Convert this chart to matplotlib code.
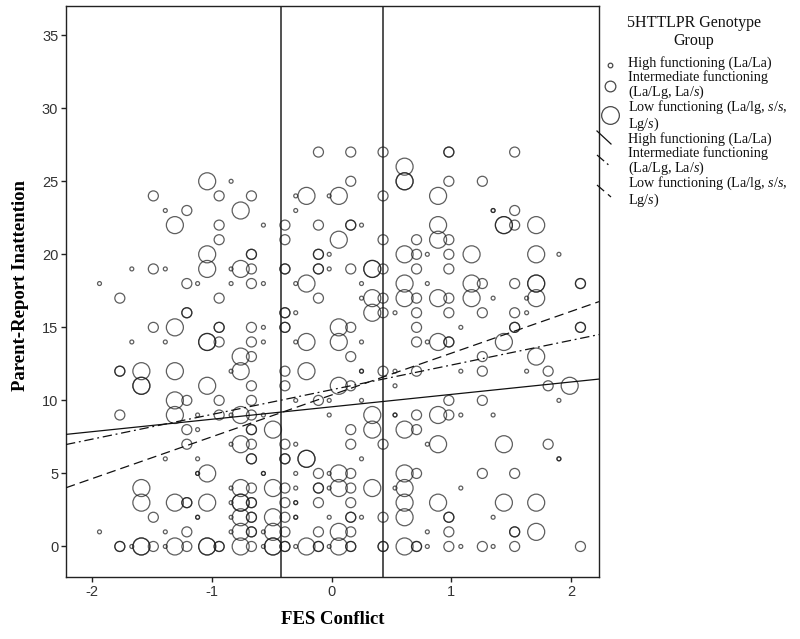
import numpy as np
import matplotlib
matplotlib.use('Agg')
import matplotlib.pyplot as plt
from matplotlib.lines import Line2D

plt.rcParams['axes.unicode_minus'] = False
plt.rcParams['mathtext.fontset'] = 'custom'
plt.rcParams['mathtext.rm'] = 'Liberation Serif'
plt.rcParams['mathtext.it'] = 'Liberation Serif:italic'

# FES Conflict (x) / Parent-Report Inattention (y), one list pair per genotype group
# repeated pairs = children sharing the same score (drawn on top of each other)
high_x = [-0.84,
          -0.30, -0.02,
          -1.39, -0.30, 1.35, 1.35,
          -0.57, 0.25,
          -0.02, 0.80, 1.90,
          -1.67, -1.39, -0.84, -0.02,
          -1.94, -1.12, -0.84, -0.57, -0.30, 0.25, 0.80,
          0.25, 1.35, 1.63,
          -0.30, 0.53, 1.63,
          -0.57, 1.08,
          -1.67, -1.39, -0.57, -0.30, 0.25, 0.80,
          -0.84, 0.25, 0.25, 0.53, 1.08, 1.63,
          0.53,
          -0.30, -0.02, 0.25, 1.90,
          -1.12, -0.84, -0.57, -0.02, 0.53, 0.53, 1.08, 1.35,
          -1.12,
          -0.84, -0.30, 0.80,
          -1.39, -1.12, 0.25, 1.90, 1.90,
          -1.12, -1.12, -0.57, -0.57, -0.30, -0.02,
          -0.84, -0.30, -0.02, 0.53, 1.08,
          -0.84, -0.30, -0.30,
          -1.12, -1.12, -0.84, -0.30, -0.30, -0.02, 0.25, 1.35,
          -1.94, -1.39, -0.84, -0.57, 0.80,
          -1.67, -1.39, -0.57, -0.30, -0.02, 0.80, 1.08, 1.35]
high_y = [25,
          24, 24,
          23, 23, 23, 23,
          22, 22,
          20, 20, 20,
          19, 19, 19, 19,
          18, 18, 18, 18, 18, 18, 18,
          17, 17, 17,
          16, 16, 16,
          15, 15,
          14, 14, 14, 14, 14, 14,
          12, 12, 12, 12, 12, 12,
          11,
          10, 10, 10, 10,
          9, 9, 9, 9, 9, 9, 9, 9,
          8,
          7, 7, 7,
          6, 6, 6, 6, 6,
          5, 5, 5, 5, 5, 5,
          4, 4, 4, 4, 4,
          3, 3, 3,
          2, 2, 2, 2, 2, 2, 2, 2,
          1, 1, 1, 1, 1,
          0, 0, 0, 0, 0, 0, 0, 0]

mid_x = [-0.11, 0.16, 0.43, 0.98, 0.98, 1.53,
         0.16, 0.98, 1.26,
         -1.49, -0.94, -0.67, 0.43,
         -1.21, 1.53,
         -0.94, -0.39, -0.11, 0.16, 0.16, 1.53,
         -0.94, -0.39, 0.43, 0.71, 0.98,
         -0.67, -0.67, -0.11, -0.11, 0.71, 0.98,
         -1.49, -0.67, -0.39, -0.39, -0.11, -0.11, 0.16, 0.43, 0.71, 0.98,
         -1.21, -0.67, 1.26, 1.53, 2.08, 2.08,
         -1.77, -0.94, -0.11, 0.43, 0.71, 0.98,
         -1.21, -1.21, -0.39, -0.39, 0.43, 0.71, 0.98, 1.26, 1.53,
         -1.49, -0.94, -0.94, -0.67, -0.39, -0.39, 0.16, 0.71, 1.53, 1.53, 2.08, 2.08,
         -0.94, -0.67, 0.71, 0.98, 0.98,
         -0.67, 0.16, 1.26,
         -1.77, -1.77, -0.39, 0.43, 0.71, 1.26, 1.81,
         -0.67, -0.39, 0.16, 1.81,
         -1.21, -0.94, -0.67, -0.11, 0.98, 1.26,
         -1.77, -0.94, -0.67, 0.71, 0.98,
         -1.21, -0.67, -0.67, 0.16, 0.71,
         -1.21, -0.67, -0.39, 0.16, 0.43, 1.81,
         -0.67, -0.67, -0.39, -0.39,
         -0.11, 0.16, 0.71, 1.26, 1.53,
         -0.67, -0.39, -0.11, -0.11, 0.16,
         -1.21, -1.21, -0.67, -0.67, -0.39, -0.11, 0.16,
         -1.49, -0.67, -0.67, -0.39, 0.16, 0.16, 0.43, 0.98, 0.98,
         -1.21, -0.67, -0.67, -0.39, -0.11, 0.16, 0.98, 1.53, 1.53,
         -1.77, -1.77, -1.49, -1.21, -0.94, -0.94, -0.67, -0.39, -0.39, -0.11, -0.11,
         0.16, 0.16, 0.43, 0.43, 0.71, 0.71, 0.98, 1.26, 1.53, 2.08]
mid_y = [27, 27, 27, 27, 27, 27,
         25, 25, 25,
         24, 24, 24, 24,
         23, 23,
         22, 22, 22, 22, 22, 22,
         21, 21, 21, 21, 21,
         20, 20, 20, 20, 20, 20,
         19, 19, 19, 19, 19, 19, 19, 19, 19, 19,
         18, 18, 18, 18, 18, 18,
         17, 17, 17, 17, 17, 17,
         16, 16, 16, 16, 16, 16, 16, 16, 16,
         15, 15, 15, 15, 15, 15, 15, 15, 15, 15, 15, 15,
         14, 14, 14, 14, 14,
         13, 13, 13,
         12, 12, 12, 12, 12, 12, 12,
         11, 11, 11, 11,
         10, 10, 10, 10, 10, 10,
         9, 9, 9, 9, 9,
         8, 8, 8, 8, 8,
         7, 7, 7, 7, 7, 7,
         6, 6, 6, 6,
         5, 5, 5, 5, 5,
         4, 4, 4, 4, 4,
         3, 3, 3, 3, 3, 3, 3,
         2, 2, 2, 2, 2, 2, 2, 2, 2,
         1, 1, 1, 1, 1, 1, 1, 1, 1,
         0, 0, 0, 0, 0, 0, 0, 0, 0, 0, 0,
         0, 0, 0, 0, 0, 0, 0, 0, 0, 0]

low_x = [0.61,
         -1.04, 0.61, 0.61,
         -0.21, 0.06, 0.89,
         -0.76,
         -1.31, 0.89, 1.44, 1.44, 1.71,
         0.06, 0.89,
         -1.04, 0.61, 1.17, 1.71,
         -1.04, -0.76, 0.34, 0.34,
         -0.21, 0.61, 1.17, 1.71, 1.71,
         0.34, 0.61, 0.89, 1.17, 1.71,
         0.34,
         -1.31, 0.06,
         -1.04, -1.04, -0.21, 0.06, 0.89, 1.44,
         -0.76, 1.71,
         -1.59, -1.31, -0.76, -0.21,
         -1.59, -1.59, -1.04, 0.06, 1.99,
         -1.31,
         -1.31, -0.76, 0.34, 0.89,
         -0.49, 0.34, 0.61,
         -0.76, 0.89, 1.44,
         -0.21, -0.21,
         -1.04, 0.06, 0.61,
         -1.59, -0.76, -0.49, 0.06, 0.34, 0.61,
         -1.59, -1.31, -1.04, -0.76, -0.76, 0.61, 0.89, 1.44, 1.71,
         -0.76, -0.49, 0.61,
         -0.76, -0.49, 0.06, 1.71,
         -1.59, -1.59, -1.31, -1.04, -1.04, -0.76, -0.49, -0.49, -0.21, 0.06, 0.61]
low_y = [26,
         25, 25, 25,
         24, 24, 24,
         23,
         22, 22, 22, 22, 22,
         21, 21,
         20, 20, 20, 20,
         19, 19, 19, 19,
         18, 18, 18, 18, 18,
         17, 17, 17, 17, 17,
         16,
         15, 15,
         14, 14, 14, 14, 14, 14,
         13, 13,
         12, 12, 12, 12,
         11, 11, 11, 11, 11,
         10,
         9, 9, 9, 9,
         8, 8, 8,
         7, 7, 7,
         6, 6,
         5, 5, 5,
         4, 4, 4, 4, 4, 4,
         3, 3, 3, 3, 3, 3, 3, 3, 3,
         2, 2, 2,
         1, 1, 1, 1,
         0, 0, 0, 0, 0, 0, 0, 0, 0, 0, 0]

# fit lines per group (intercept, slope)
fit_intercept = [9.56, 10.73, 10.37]
fit_slope = [0.85, 1.69, 2.86]
cut_points = [-0.42, 0.43]

group_labels = ['High functioning (La/La)',
                'Intermediate functioning\n(La/Lg, La/$\\mathit{s}$)',
                'Low functioning (La/lg, $\\mathit{s}$/$\\mathit{s}$,\nLg/$\\mathit{s}$)']

sizes = [8, 52, 150]
line_styles = ['-', (0, (7.5, 3, 1.5, 3)), (0, (7.5, 4))]
edge = '#1a1a1a'

fig = plt.figure(figsize=(8, 6.39), dpi=100)
ax = fig.add_axes([66/800, 1-577/639, 533/800, 571/639])

for xs, ys, s in zip([high_x, mid_x, low_x], [high_y, mid_y, low_y], sizes):
    ax.scatter(xs, ys, s=s, facecolors='none', edgecolors=edge,
               linewidths=0.9, alpha=0.7, zorder=3)

for b, m, ls in zip(fit_intercept, fit_slope, line_styles):
    ax.axline((0, b), slope=m, color='#111111', lw=0.9, ls=ls, zorder=4)

for c in cut_points:
    ax.axvline(c, color='#222222', lw=1.1, zorder=2)

ax.set_xlim(-2.22, 2.235)
ax.set_ylim(-2.09, 37.0)
ax.set_xticks([-2, -1, 0, 1, 2])
ax.set_yticks(np.arange(0, 36, 5))
for sp in ax.spines.values():
    sp.set_color('#222222')
    sp.set_linewidth(1.0)
ax.tick_params(direction='out', length=3.6, width=1.0, color='#222222',
               labelsize=10.5, labelcolor='#333333')
ax.tick_params(axis='x', pad=2.5)
ax.tick_params(axis='y', pad=2)
for lab in ax.get_xticklabels() + ax.get_yticklabels():
    lab.set_fontfamily('Liberation Sans')

ax.set_xlabel('FES Conflict', fontfamily='Liberation Serif', fontweight='bold', fontsize=13.5)
ax.set_ylabel('Parent-Report Inattention', fontfamily='Liberation Serif', fontweight='bold', fontsize=13.5)
ax.xaxis.label.set_va('center')
ax.yaxis.label.set_va('center')
ax.xaxis.set_label_coords(0.5, -0.0753)
ax.yaxis.set_label_coords(-0.0863, 0.51)

# legend panel on the right, in pixel-like units
lg = fig.add_axes([595/800, 0, 205/800, 1])
lg.set_xlim(595, 800)
lg.set_ylim(639, 0)
lg.axis('off')
serif = dict(fontfamily='Liberation Serif', color='#111111')
lg.text(694, 23, '5HTTLPR Genotype', ha='center', va='center', fontsize=11.5, **serif)
lg.text(694, 41, 'Group', ha='center', va='center', fontsize=11.5, **serif)

text_y = [63, 85.5, 115.5, 139.5, 161.5, 191.5]
marker_y = [65, 86, 115]
for i in range(3):
    lg.text(628, text_y[i], group_labels[i], ha='left', va='center', fontsize=10.2,
            linespacing=0.98, **serif)
    lg.add_line(Line2D([610], [marker_y[i]], marker='o', markersize=np.sqrt(sizes[i]) + 0.5,
                       markerfacecolor='none', markeredgecolor=edge, markeredgewidth=0.9,
                       alpha=0.8, ls='none'))
slant = [(131, 144), (155, 167), (185, 197)]
for i in range(3):
    lg.text(628, text_y[i+3], group_labels[i], ha='left', va='center', fontsize=10.2,
            linespacing=0.98, **serif)
    lg.add_line(Line2D([597, 611], list(slant[i]), color='#111111', lw=0.9, ls=line_styles[i]))

fig.savefig('out.png', dpi=100)
